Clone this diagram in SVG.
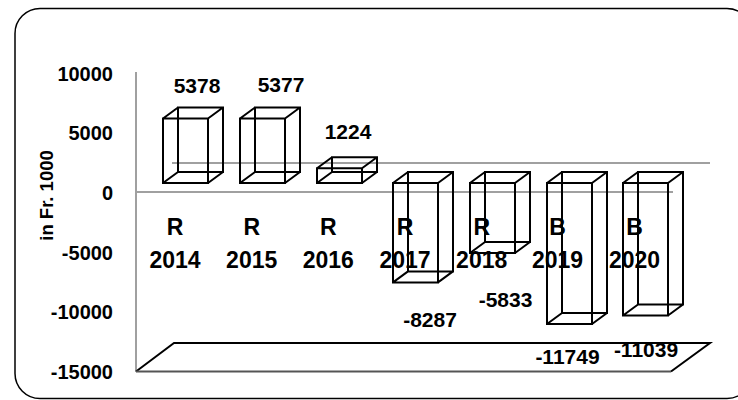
<svg xmlns="http://www.w3.org/2000/svg" width="738" height="400" viewBox="0 0 738 400">
<style>
.frame{fill:#fff;stroke:#000;stroke-width:1.5}
.axis{stroke:#a0a0a0;stroke-width:2;fill:none}
.box{fill:none;stroke:#000;stroke-width:2}
.t{font-family:"Liberation Sans",Arial,sans-serif;font-weight:bold;fill:#000}
.tick{font-size:20px;text-anchor:end}
.dl{font-size:21px;text-anchor:middle}
.cat{font-size:23px;text-anchor:middle}
.title{font-size:18.5px;text-anchor:middle}
</style>
<rect class="frame" x="15" y="8.5" width="737" height="390" rx="25" ry="25"/>
<g id="axes">
<line class="axis" x1="136" y1="72" x2="136" y2="372"/>
<line class="axis" x1="172" y1="163" x2="710" y2="163"/>
<line class="axis" x1="136" y1="192" x2="673" y2="192"/>
<path d="M136 371.5 L174 343 H710 L671 371.5" fill="none" stroke="#000" stroke-width="2"/>
<line x1="136" y1="371.5" x2="671" y2="371.5" stroke="#555" stroke-width="2"/>
</g>
<g id="ticks" class="t tick">
<text x="113" y="80.5">10000</text>
<text x="113" y="140.2">5000</text>
<text x="113" y="199.9">0</text>
<text x="113" y="259.6">-5000</text>
<text x="113" y="319.3">-10000</text>
<text x="113" y="379">-15000</text>
</g>
<text class="t title" transform="translate(53,195.5) rotate(-90)">in Fr. 1000</text>
<g id="connectors"></g>
<g id="bar2014"><path class="box" d="M163 118.5H208V183H163Z M178 107.5H223V172H178Z M163 118.5l15 -11 M208 118.5l15 -11 M208 183l15 -11 M163 183l15 -11"/></g>
<g id="bar2015"><path class="box" d="M240 118.5H285V183H240Z M255 107.5H300V172H255Z M240 118.5l15 -11 M285 118.5l15 -11 M285 183l15 -11 M240 183l15 -11"/></g>
<g id="bar2016"><path class="box" d="M317 168.3H362V183H317Z M332 157.3H377V172H332Z M317 168.3l15 -11 M362 168.3l15 -11 M362 183l15 -11 M317 183l15 -11"/></g>
<g id="bar2017"><path class="box" d="M393 183H438V282.4H393Z M408 172H453V271.4H408Z M393 183l15 -11 M438 183l15 -11 M438 282.4l15 -11 M393 282.4l15 -11"/></g>
<g id="bar2018"><path class="box" d="M470 183H515V253H470Z M485 172H530V242H485Z M470 183l15 -11 M515 183l15 -11 M515 253l15 -11 M470 253l15 -11"/></g>
<g id="bar2019"><path class="box" d="M547 183H592V324H547Z M562 172H607V313H562Z M547 183l15 -11 M592 183l15 -11 M592 324l15 -11 M547 324l15 -11"/></g>
<g id="bar2020"><path class="box" d="M623 183H668V315.5H623Z M638 172H683V304.5H638Z M623 183l15 -11 M668 183l15 -11 M668 315.5l15 -11 M623 315.5l15 -11"/></g>
<g id="datalabels" class="t dl">
<text x="197" y="92.5">5378</text>
<text x="281" y="91.5">5377</text>
<text x="348" y="138.5">1224</text>
<text x="430" y="326.5">-8287</text>
<text x="505.5" y="307">-5833</text>
<text x="567.5" y="364">-11749</text>
<text x="646" y="356.5">-11039</text>
</g>
<g id="categories" class="t cat">
<text x="175" y="235">R</text><text x="175" y="268">2014</text>
<text x="251.7" y="235">R</text><text x="251.7" y="268">2015</text>
<text x="328.3" y="235">R</text><text x="328.3" y="268">2016</text>
<text x="405" y="235">R</text><text x="405" y="268">2017</text>
<text x="481.7" y="235">R</text><text x="481.7" y="268">2018</text>
<text x="557.5" y="235">B</text><text x="557.5" y="268">2019</text>
<text x="634.5" y="235">B</text><text x="634.5" y="268">2020</text>
</g>
</svg>
